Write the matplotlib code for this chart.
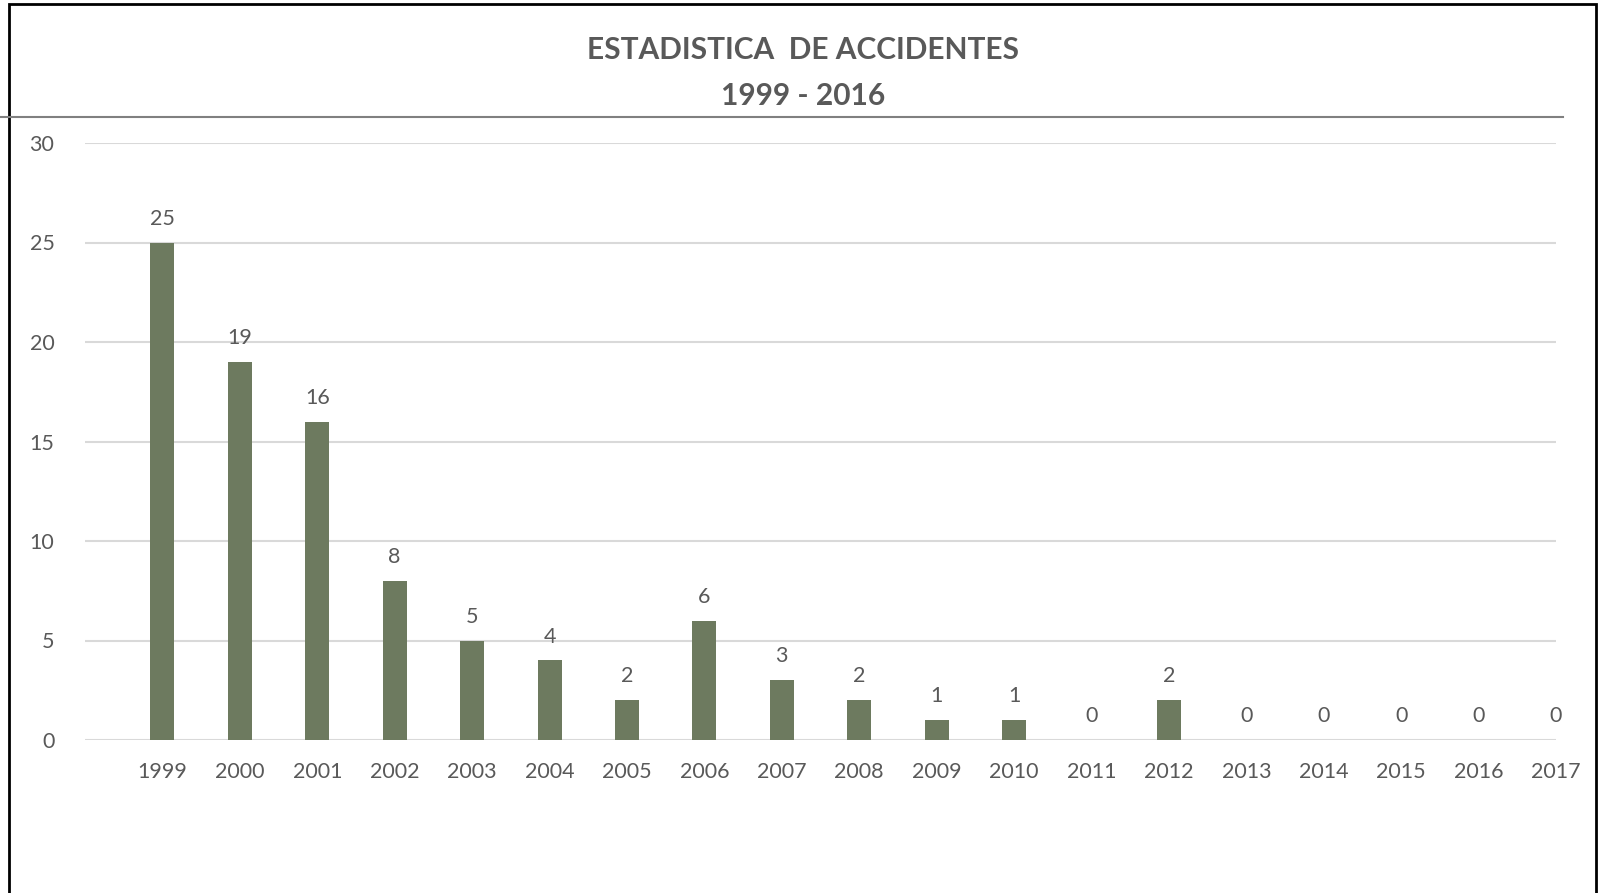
import matplotlib
matplotlib.use("Agg")
import matplotlib.pyplot as plt
from matplotlib.patches import Rectangle
from matplotlib.lines import Line2D

years = ["1999", "2000", "2001", "2002", "2003", "2004", "2005", "2006", "2007", "2008",
         "2009", "2010", "2011", "2012", "2013", "2014", "2015", "2016", "2017"]
accidents = [25, 19, 16, 8, 5, 4, 2, 6, 3, 2, 1, 1, 0, 2, 0, 0, 0, 0, 0]
title_lines = ["ESTADISTICA  DE ACCIDENTES", "1999 - 2016"]

W, H = 1602, 893
plt.rcParams['font.family'] = ['Lato', 'DejaVu Sans']
fig = plt.figure(figsize=(W / 100, H / 100), dpi=100)
fig.patch.set_facecolor("white")

txt = "#595959"
bar_color = "#6d7a5f"
grid_color = "#d9d9d9"

ax = fig.add_axes([85 / W, (H - 740) / H, (1556 - 85) / W, (740 - 143) / H])
x = list(range(len(years)))
bars = ax.bar(x, accidents, width=0.31, color=bar_color, zorder=3)
ax.set_xlim(-1, len(years) - 1)
ax.set_ylim(0, 30)
ax.set_yticks(range(0, 31, 5))
ax.yaxis.grid(True, color=grid_color, linewidth=1.5, zorder=0)
for s in ax.spines.values():
    s.set_visible(False)
ax.tick_params(axis="both", length=0, colors=txt, labelsize=15.5)
ax.tick_params(axis="y", pad=22)
ax.tick_params(axis="x", pad=16)
ax.set_xticks(x)
ax.set_xticklabels(years)
for xi, v in zip(x, accidents):
    ax.annotate(str(v), (xi, v), xytext=(0, 10), textcoords="offset points",
                ha="center", va="bottom", fontsize=15.5, color=txt, clip_on=False)

fig.text(803 / W, 1 - 50 / H, title_lines[0], ha="center", va="center",
         fontsize=21.5, fontweight="bold", color=txt)
fig.text(803 / W, 1 - 96 / H, title_lines[1], ha="center", va="center",
         fontsize=21.5, fontweight="bold", color=txt)

# horizontal separator line under title
fig.add_artist(Line2D([0, 1563 / W], [1 - 117 / H, 1 - 117 / H], color="#808080", linewidth=1.5))
# outer border
fig.add_artist(Rectangle((9 / W, -0.05), (1596 - 9) / W, 1.05 - 4.5 / H, fill=False,
                         edgecolor="black", linewidth=2.0, transform=fig.transFigure))

fig.savefig("out.png", dpi=100)
